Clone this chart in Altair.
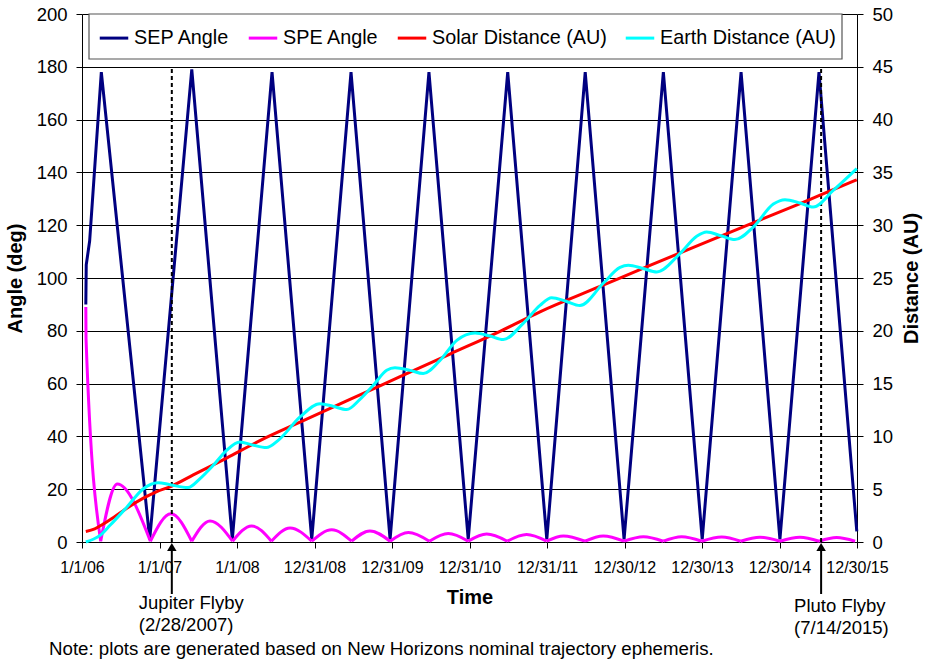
import json
import altair as alt
import pandas as pd

# ---------------- data ----------------
series_names = ["SEP Angle", "SPE Angle", "Solar Distance (AU)", "Earth Distance (AU)"]
series_colors = ["#000080", "#FF00FF", "#FF0000", "#00FFFF"]

# x axis: days since 1/1/06
tick_days = [0, 365, 730, 1095, 1460, 1825, 2190, 2555, 2920, 3285, 3650]
tick_labels = ["1/1/06", "1/1/07", "1/1/08", "12/31/08", "12/31/09", "12/31/10",
               "12/31/11", "12/30/12", "12/30/13", "12/30/14", "12/30/15"]

# Sun-Earth-Probe angle (deg)
sep_day = [18, 20, 36, 91, 319, 517, 708, 895, 1082, 1267, 1451, 1634, 1819, 2005,
           2189, 2370, 2553, 2738, 2921, 3104, 3287, 3471, 3649]
sep_deg = [90, 105, 114, 178, 1, 179, 1, 178, 1, 178, 1, 178, 1, 178,
           1, 178, 1, 178, 1, 178, 1, 178, 4]

# Sun-Probe-Earth angle (deg)
spe_day = [18, 19, 88, 166, 322, 419, 517, 603, 709, 799, 892, 980, 1082, 1176, 1270,
           1356, 1451, 1537, 1636, 1725, 1819, 1906, 2003, 2094, 2188, 2267, 2369,
           2455, 2553, 2644, 2738, 2824, 2919, 3013, 3102, 3193, 3287, 3381, 3472,
           3554, 3641]
spe_deg = [89, 77, 0.3, 22, 0.3, 10.7, 0.3, 8.0, 0.3, 6.1, 0.3, 5.3, 0.3, 4.6, 0.3,
           4.2, 0.3, 3.6, 0.3, 3.2, 0.3, 3.0, 0.3, 2.8, 0.3, 2.3, 0.3,
           2.3, 0.3, 2.0, 0.3, 2.0, 0.3, 1.9, 0.3, 1.8, 0.3, 1.8, 0.3,
           1.7, 0.3]

# Solar distance (AU)
solar_day = [18, 60, 100, 150, 211, 289, 350, 423, 524, 681, 838, 1027, 1262, 1498,
             1733, 1969, 2157, 2440, 2675, 2911, 3146, 3382, 3476, 3649]
solar_au = [1.0, 1.25, 1.7, 2.35, 3.2, 4.15, 4.75, 5.3, 6.35, 7.95, 9.6, 11.35, 13.5,
            15.65, 17.8, 19.95, 21.8, 24.2, 26.2, 28.15, 30.1, 32.05, 32.85, 34.3]

# Earth distance (AU)
earth_day = [18, 53, 85, 132, 211, 289, 358, 414, 499, 556, 618, 681, 743, 801, 868,
             928, 1027, 1121, 1182, 1247, 1309, 1372, 1435, 1474, 1545, 1607, 1686,
             1765, 1851, 1922, 1984, 2078, 2157, 2212, 2279, 2345, 2455, 2534, 2573,
             2642, 2707, 2816, 2895, 2942, 3009, 3075, 3162, 3256, 3311, 3382, 3444,
             3538, 3649]
earth_au = [0.0, 0.26, 0.63, 1.58, 3.3, 5.05, 5.62, 5.43, 5.15, 6.0, 7.26, 8.68, 9.47,
            9.2, 8.94, 9.7, 11.84, 13.1, 12.85, 12.54, 13.5, 14.84, 16.26, 16.5, 16.25,
            15.95, 17.2, 19.1, 19.8, 19.5, 19.17, 20.7, 22.4, 23.14, 22.8, 22.4, 24.5,
            26.0, 26.2, 25.9, 25.57, 27.3, 28.95, 29.36, 29.0, 28.64, 29.83, 32.0,
            32.42, 32.1, 31.72, 33.3, 35.36]

# flybys
flyby_day = [423, 3481]
flyby_label = ["Jupiter Flyby\n(2/28/2007)", "Pluto Flyby\n(7/14/2015)"]
flyby_top = [180, 180]
note_text = "Note: plots are generated based on New Horizons nominal trajectory ephemeris."

# ---------------- tables ----------------
sep_df = pd.DataFrame({"day": sep_day, "value": sep_deg, "series": series_names[0], "seg": 0})

spe_rows = []
seg = 0
for i, (d, v) in enumerate(zip(spe_day, spe_deg)):
    spe_rows.append({"day": d, "value": v, "series": series_names[1], "seg": seg})
    if 0 < i < len(spe_day) - 1 and v < 1:
        seg += 1
        spe_rows.append({"day": d, "value": v, "series": series_names[1], "seg": seg})
spe_df = pd.DataFrame(spe_rows)

solar_df = pd.DataFrame({"day": solar_day, "value": solar_au, "series": series_names[2]})
earth_df = pd.DataFrame({"day": earth_day, "value": earth_au, "series": series_names[3]})
flyby_df = pd.DataFrame({"day": flyby_day, "label": flyby_label,
                         "y0": [0, 0], "y1": flyby_top})

# ---------------- encodings ----------------
FONT = "Liberation Sans"
label_expr = json.dumps(tick_labels) + "[round(datum.value / 365)]"

x_enc = alt.X(
    "day:Q",
    scale=alt.Scale(domain=[0, 3650], nice=False, zero=False),
    axis=alt.Axis(values=tick_days, labelExpr=label_expr, title="Time",
                  tickSize=6, tickColor="black", domainColor="black",
                  labelFontSize=16, labelColor="black", labelPadding=11,
                  labelFlush=False, labelOverlap=False, grid=False,
                  titleFontSize=20, titleFontWeight="bold", titleColor="black",
                  titlePadding=12),
)

angle_axis = alt.Axis(values=list(range(0, 201, 20)), title="Angle (deg)",
                      grid=True, gridColor="black", gridOpacity=1, gridWidth=1,
                      tickSize=6, tickColor="black", domainColor="black",
                      labelFontSize=18.5, labelColor="black", labelPadding=9,
                      titleFontSize=20, titleFontWeight="bold", titleColor="black",
                      titlePadding=11)
angle_scale = alt.Scale(domain=[0, 200], nice=False, zero=True)

dist_axis = alt.Axis(values=list(range(0, 51, 5)), title="Distance (AU)", orient="right",
                     grid=False, tickSize=6, tickColor="black", domainColor="black",
                     labelFontSize=18.5, labelColor="black", labelPadding=9,
                     titleFontSize=20, titleFontWeight="bold", titleColor="black",
                     titleAngle=270, titleBaseline="top", titlePadding=9)
dist_scale = alt.Scale(domain=[0, 50], nice=False, zero=True)

legend = alt.Legend(title=None, orient="none", legendX=16, legendY=8,
                    direction="horizontal", columns=4, symbolType="stroke",
                    symbolStrokeWidth=3, symbolSize=812, labelFontSize=19.8,
                    labelColor="black", labelLimit=400, columnPadding=12,
                    labelOffset=4, padding=0)
color_enc = alt.Color("series:N",
                      scale=alt.Scale(domain=series_names, range=series_colors),
                      legend=legend)

y_angle = alt.Y("value:Q", scale=angle_scale, axis=angle_axis)
y_dist = alt.Y("value:Q", scale=dist_scale, axis=dist_axis)

# ---------------- layers ----------------
one_row = alt.Data(values=[{"k": 1}])

legend_box = alt.Chart(one_row).mark_rect(fill="white", stroke="#555555", strokeWidth=1.2).encode(
    x=alt.value(7), x2=alt.value(760), y=alt.value(0), y2=alt.value(45)
)

sep_line = alt.Chart(sep_df).mark_line(strokeWidth=3).encode(
    x=x_enc, y=y_angle, color=color_enc
)
spe_line = alt.Chart(spe_df).mark_line(strokeWidth=3, interpolate="monotone").encode(
    x=x_enc, y=y_angle, color=color_enc, detail="seg:N"
)
flyby_rules = alt.Chart(flyby_df).mark_rule(color="black", strokeWidth=2, strokeDash=[4, 3]).encode(
    x=x_enc,
    y=alt.Y("y0:Q", scale=angle_scale, axis=angle_axis),
    y2="y1:Q",
)
arrow_shaft = alt.Chart(flyby_df).mark_rule(color="black", strokeWidth=2).encode(
    x=x_enc, y=alt.value(535), y2=alt.value(580)
)
arrow_head = alt.Chart(flyby_df).mark_point(shape="triangle-up", filled=True, size=90,
                                            color="black", opacity=1).encode(
    x=x_enc, y=alt.value(533)
)
jup_text = alt.Chart(flyby_df.iloc[[0]]).mark_text(
    align="left", baseline="alphabetic", dx=-33, fontSize=18.5, lineBreak="\n",
    lineHeight=22, color="black"
).encode(x=x_enc, y=alt.value(595), text="label:N")
plu_text = alt.Chart(flyby_df.iloc[[1]]).mark_text(
    align="left", baseline="alphabetic", dx=-27, fontSize=18.5, lineBreak="\n",
    lineHeight=22, color="black"
).encode(x=x_enc, y=alt.value(598), text="label:N")
note = alt.Chart(alt.Data(values=[{"t": note_text}])).mark_text(
    align="left", baseline="alphabetic", fontSize=18.7, color="black"
).encode(x=alt.value(-33), y=alt.value(641), text="t:N")

solar_line = alt.Chart(solar_df).mark_line(strokeWidth=3, interpolate="monotone").encode(
    x=x_enc, y=y_dist, color=color_enc
)
earth_line = alt.Chart(earth_df).mark_line(strokeWidth=3, interpolate="monotone").encode(
    x=x_enc, y=y_dist, color=color_enc
)

left = alt.layer(legend_box, sep_line, spe_line, flyby_rules, arrow_shaft, arrow_head,
                 jup_text, plu_text, note)
right = alt.layer(solar_line, earth_line)

chart = alt.layer(left, right).resolve_scale(y="independent").properties(
    width=775, height=528,
    padding={"left": 82, "top": 14, "right": 71, "bottom": 121},
    autosize=alt.AutoSizeParams(type="none"),
).configure(font=FONT).configure_view(stroke=None)

chart.save("out.html", embed_options={"renderer": "svg", "actions": False})
